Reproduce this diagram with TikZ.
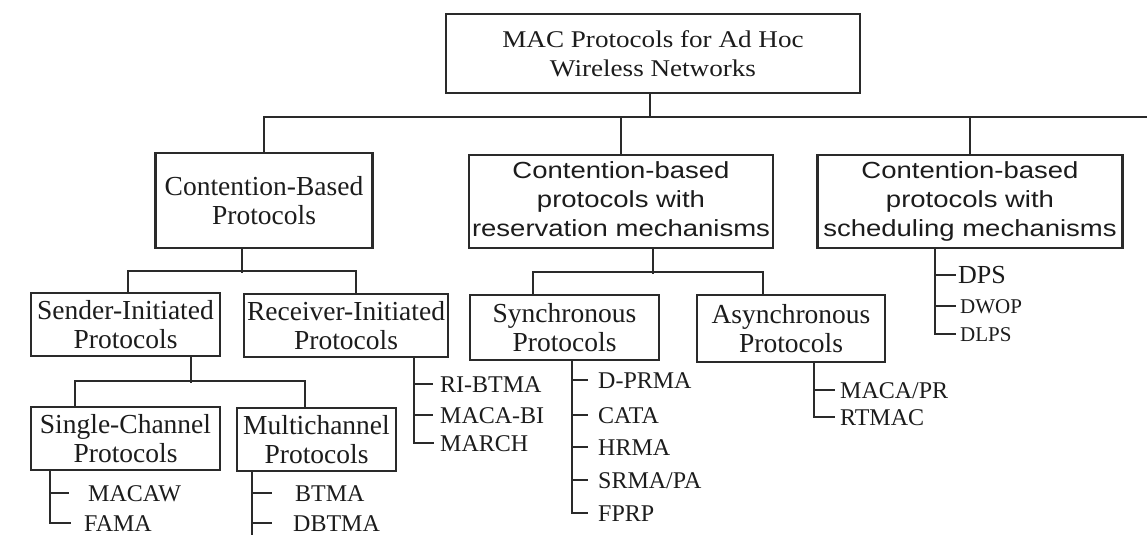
\documentclass[tikz,border=0pt]{standalone}
\usepackage{fontspec}
\setmainfont{Liberation Serif}
\newfontfamily\arialish{Liberation Sans}
\usepackage{graphicx}
\definecolor{ink}{HTML}{2A2A2A}
\definecolor{txt}{HTML}{1C1C1C}
\tikzset{
  box/.style={draw=ink, line width=2.2pt, inner sep=0pt, align=center, text=txt,
    font=\fontsize{27.5}{29}\selectfont},
  sansbox/.style={box, font=\arialish\fontsize{23.3}{29}\selectfont},
  leaf/.style={anchor=west, inner sep=0pt, text=txt, font=\fontsize{24}{24}\selectfont,
    text height=16pt, text depth=0pt},
  smallleaf/.style={leaf, font=\fontsize{21}{21}\selectfont, text height=14pt},
  wire/.style={draw=ink, line width=2.4pt},
}
% wide three-line caption used in the two sans-serif boxes
\newcommand\widelines[3]{\raisebox{-0.5pt}[\height][\depth]{\scalebox{1.18}[1]{%
  \begin{tabular}{@{}c@{}}#1\\#2\\#3\end{tabular}}}}
\begin{document}
\begin{tikzpicture}[x=1pt, y=-1pt]
\useasboundingbox[fill=white] (0,0) rectangle (1147,535);

% ---- boxes ----
\node[box, minimum width=414, minimum height=79, font=\fontsize{24}{29}\selectfont] (root) at (653,53.5)
  {\raisebox{-3pt}[\height][\depth]{\scalebox{1.13}[1]{%
   \begin{tabular}{@{}c@{}}MAC Protocols for Ad Hoc\\Wireless Networks\end{tabular}}}};

\node[box, minimum width=217, minimum height=95] (cb) at (264,200.5) {Contention-Based\\Protocols};
\node[sansbox, minimum width=304, minimum height=93] (res) at (621,201.5)
  {\widelines{Contention-based}{protocols with}{reservation mechanisms}};
\node[sansbox, minimum width=305, minimum height=93] (sch) at (970,201.5)
  {\widelines{Contention-based}{protocols with}{scheduling mechanisms}};

\node[box, minimum width=189, minimum height=63] (snd) at (125.5,324.5) {Sender-Initiated\\Protocols};
\node[box, minimum width=204, minimum height=63] (rcv) at (346,325.5) {Receiver-Initiated\\Protocols};
\node[box, minimum width=189, minimum height=65] (syn) at (564.5,327.5) {Synchronous\\Protocols};
\node[box, minimum width=188, minimum height=67] (asy) at (791,328.5) {Asynchronous\\Protocols};

\node[box, minimum width=189, minimum height=63] (sgl) at (125.5,438.5) {Single-Channel\\Protocols};
\node[box, minimum width=159, minimum height=63] (mul) at (316.5,439.5) {Multichannel\\Protocols};

% ---- tree connectors ----
\coordinate (busR) at (1147,117);
\draw[wire] ([xshift=-3]root.south) -- ([xshift=-3]root.south |- busR);
\draw[wire] (cb.north) |- (busR);
\draw[wire] (res.north) -- (res.north |- busR);
\draw[wire] (sch.north) -- (sch.north |- busR);

\draw[wire] ([xshift=-22]cb.south) -- ++(0,24);
\draw[wire] ([xshift=2.5]snd.north) -- ++(0,-21) -| ([xshift=10]rcv.north);

\draw[wire] ([xshift=32]res.south) -- ++(0,25);
\draw[wire] ([xshift=-31.5]syn.north) -- ++(0,-22) -| ([xshift=-28]asy.north);

\draw[wire] ([xshift=65.5]snd.south) -- ++(0,26);
\draw[wire] ([xshift=-50.5]sgl.north) -- ++(0,-25) -| ([xshift=-11.5]mul.north);

% ---- leaf lists ----
\node[leaf] (macaw) at (88,493) {MACAW};
\node[leaf] (fama)  at (84,523) {FAMA};
\coordinate (s1) at (50,470);
\draw[wire] (s1) |- ([xshift=-13]fama.west);
\draw[wire] (s1 |- macaw.west) -- ([xshift=-19]macaw.west);

\node[leaf] (btma)  at (295,493) {BTMA};
\node[leaf] (dbtma) at (293,523) {DBTMA};
\coordinate (s2) at (252,471);
\coordinate (s2end) at (252,535);
\draw[wire] (s2) -- (s2end);
\draw[wire] (s2 |- btma.west) -- ([xshift=-23]btma.west);
\draw[wire] (s2 |- dbtma.west) -- ([xshift=-21]dbtma.west);

\node[leaf] (ribtma) at (440,384) {RI-BTMA};
\node[leaf] (macabi) at (440,415) {MACA-BI};
\node[leaf] (march)  at (440,443) {MARCH};
\coordinate (s3) at (414,357);
\draw[wire] (s3) |- ([xshift=-6]march.west);
\draw[wire] (s3 |- ribtma.west) -- ([xshift=-7]ribtma.west);
\draw[wire] (s3 |- macabi.west) -- ([xshift=-7]macabi.west);

\node[leaf] (dprma) at (598,380) {D-PRMA};
\node[leaf] (cata)  at (598,415) {CATA};
\node[leaf] (hrma)  at (598,447) {HRMA};
\node[leaf] (srma)  at (598,480) {SRMA/PA};
\node[leaf] (fprp)  at (598,513) {FPRP};
\coordinate (s4) at (572,360);
\draw[wire] (s4) |- ([xshift=-10]fprp.west);
\foreach \n in {dprma,cata,hrma,srma}
  \draw[wire] (s4 |- \n.west) -- ([xshift=-10]\n.west);

\node[leaf] (macapr) at (840,390) {MACA/PR};
\node[leaf] (rtmac)  at (840,417) {RTMAC};
\coordinate (s5) at (814,362);
\draw[wire] (s5) |- ([xshift=-5]rtmac.west);
\draw[wire] (s5 |- macapr.west) -- ([xshift=-5]macapr.west);

\node[leaf, font=\fontsize{26}{26}\selectfont, text height=17pt] (dps) at (958,275) {DPS};
\node[smallleaf] (dwop) at (960,306) {DWOP};
\node[smallleaf] (dlps) at (960,334) {DLPS};
\coordinate (s6) at (935,248);
\draw[wire] (s6) |- ([xshift=-4]dlps.west);
\draw[wire] (s6 |- dps.west) -- ([xshift=-2]dps.west);
\draw[wire] (s6 |- dwop.west) -- ([xshift=-4]dwop.west);
\end{tikzpicture}
\end{document}
